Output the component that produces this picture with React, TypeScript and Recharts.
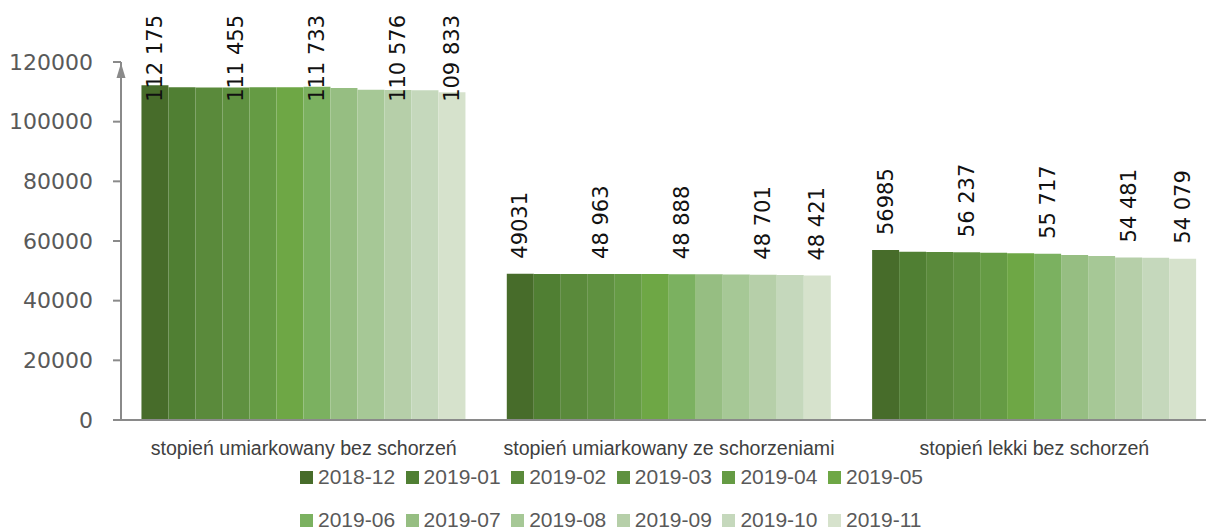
import React from 'react';
import { BarChart, Bar, XAxis, YAxis, Legend, LabelList } from 'recharts';

const CATEGORIES = [
  'stopień umiarkowany bez schorzeń',
  'stopień umiarkowany ze schorzeniami',
  'stopień lekki bez schorzeń',
];

const MONTHS = [
  '2018-12', '2019-01', '2019-02', '2019-03', '2019-04', '2019-05',
  '2019-06', '2019-07', '2019-08', '2019-09', '2019-10', '2019-11',
];

// values per month, one per category
const V_2018_12 = [112175, 49031, 56985];
const V_2019_01 = [111500, 48980, 56400];
const V_2019_02 = [111450, 48970, 56300];
const V_2019_03 = [111455, 48963, 56237];
const V_2019_04 = [111500, 48930, 56050];
const V_2019_05 = [111550, 48910, 55900];
const V_2019_06 = [111733, 48888, 55717];
const V_2019_07 = [111300, 48820, 55300];
const V_2019_08 = [110700, 48760, 54950];
const V_2019_09 = [110576, 48701, 54481];
const V_2019_10 = [110500, 48640, 54350];
const V_2019_11 = [109833, 48421, 54079];

// data labels as printed on the chart (only some months carry one)
const L_2018_12 = ['112 175', '49031', '56985'];
const L_2019_03 = ['111 455', '48 963', '56 237'];
const L_2019_06 = ['111 733', '48 888', '55 717'];
const L_2019_09 = ['110 576', '48 701', '54 481'];
const L_2019_11 = ['109 833', '48 421', '54 079'];

const Y_TICKS = [0, 20000, 40000, 60000, 80000, 100000, 120000];

const COLORS = [
  '#476c2a', '#507f33', '#5a8a3b', '#5f9140', '#659b44', '#6ea745',
  '#7bb160', '#96be82', '#a6c896', '#b6cfa9', '#c5d8bc', '#d6e2cc',
];

const SERIES = [
  V_2018_12, V_2019_01, V_2019_02, V_2019_03, V_2019_04, V_2019_05,
  V_2019_06, V_2019_07, V_2019_08, V_2019_09, V_2019_10, V_2019_11,
];

const LABELS: (string[] | null)[] = [
  L_2018_12, null, null, L_2019_03, null, null,
  L_2019_06, null, null, L_2019_09, null, L_2019_11,
];

const data = CATEGORIES.map((name, ci) => {
  const row: any = { name };
  MONTHS.forEach((m, si) => {
    row[m] = SERIES[si][ci];
    const l = LABELS[si];
    if (l) row[`lbl_${m}`] = l[ci];
  });
  return row;
});

const AXIS_COLOR = '#8a8a8a';

const renderLabel = (props: any) => {
  const { x, y, width, value } = props;
  if (!value) return null;
  const cx = x + width / 2;
  const approxLen = String(value).length * 12.5;
  const base = y - 15;
  const pinned = base - approxLen < 15; // too tall: pin to top of chart
  const ty = pinned ? 15 : base;
  return (
    <text
      x={cx}
      y={ty}
      transform={`rotate(-90 ${cx} ${ty})`}
      textAnchor={pinned ? 'end' : 'start'}
      dominantBaseline="central"
      fill="#111"
      fontSize={21}
      fontFamily="DejaVu Sans"
    >
      {value}
    </text>
  );
};

const YTick = ({ x, y, payload }: any) => {
  const ax = x + 28;
  return (
    <g>
      <text
        x={x}
        y={y}
        dy="0.355em"
        textAnchor="end"
        fill="#595959"
        fontSize={22}
        fontFamily="DejaVu Sans"
      >
        {payload.value}
      </text>
      {payload.value === Y_TICKS[Y_TICKS.length - 1] && (
        <path d={`M${ax} ${y + 1} L${ax - 4.5} ${y + 16} L${ax + 4.5} ${y + 16} Z`} fill={AXIS_COLOR} />
      )}
    </g>
  );
};

const XTick = ({ x, y, payload }: any) => (
  <text
    x={x}
    y={y}
    dy="0.71em"
    textAnchor="middle"
    fill="#404040"
    fontSize={19.6}
    fontFamily="Liberation Sans"
  >
    {payload.value}
  </text>
);

const renderLegend = (props: any) => {
  const items = props.payload || [];
  const rows = [items.slice(0, 6), items.slice(6)];
  return (
    <div>
      {rows.map((row: any[], ri: number) => (
        <div
          key={ri}
          style={{ display: 'flex', alignItems: 'center', height: 24, marginBottom: 19 }}
        >
          {row.map((it: any) => (
            <div key={it.value} style={{ display: 'flex', alignItems: 'center', width: 105.6 }}>
              <span style={{ width: 13, height: 13, background: it.color, marginRight: 5, display: 'inline-block' }} />
              <span style={{ fontFamily: 'Liberation Sans', fontSize: 21, color: '#595959', lineHeight: '24px' }}>
                {it.value}
              </span>
            </div>
          ))}
        </div>
      ))}
    </div>
  );
};

export default function App() {
  return (
    <div style={{ width: 1206, height: 530, overflow: 'hidden', position: 'relative', background: '#fff' }}>
      <style>{'body{margin:0}'}</style>
      <BarChart
        width={1230}
        height={530}
        data={data}
        margin={{ top: 62, right: 13, left: 0, bottom: 80 }}
        barCategoryGap="5.6%"
        barGap={0}
      >
        <XAxis
          dataKey="name"
          height={30}
          tickLine={false}
          tickSize={0}
          tickMargin={21}
          axisLine={{ stroke: AXIS_COLOR, strokeWidth: 2 }}
          tick={<XTick />}
          interval={0}
        />
        <YAxis
          width={121}
          domain={[0, 120000]}
          ticks={Y_TICKS}
          tickSize={8}
          tickMargin={20}
          axisLine={{ stroke: AXIS_COLOR, strokeWidth: 2 }}
          tickLine={{ stroke: AXIS_COLOR, strokeWidth: 2 }}
          tick={<YTick />}
        />
        <Legend
          layout="horizontal"
          verticalAlign="middle"
          align="center"
          content={renderLegend}
          wrapperStyle={{ top: 465, left: 300, width: 700, height: 64 }}
        />
        {MONTHS.map((m, i) => (
          <Bar key={m} dataKey={m} name={m} fill={COLORS[i]} isAnimationActive={false}>
            {LABELS[i] && <LabelList dataKey={`lbl_${m}`} content={renderLabel} />}
          </Bar>
        ))}
      </BarChart>
    </div>
  );
}
